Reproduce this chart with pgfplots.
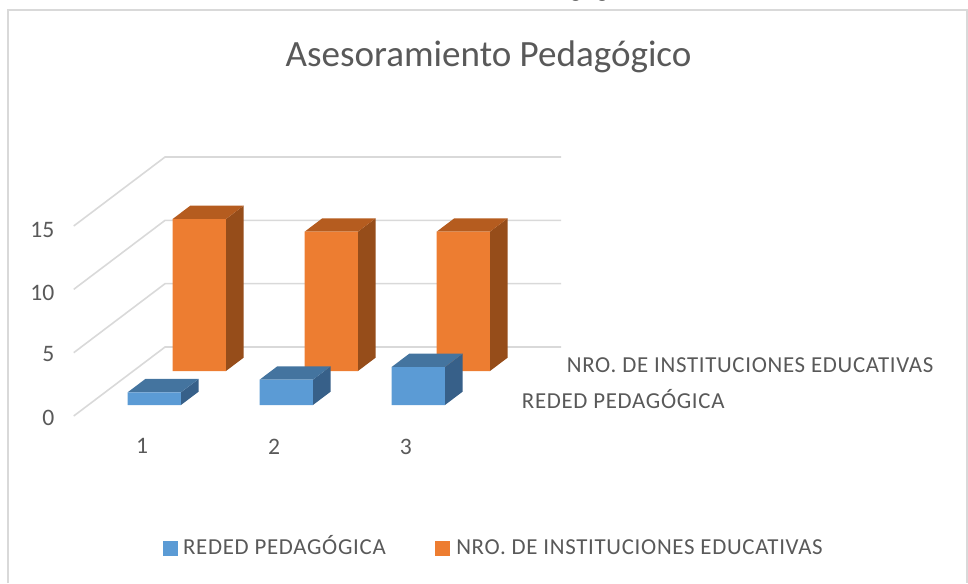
\documentclass[border=0pt]{standalone}
\usepackage{pgfplots}
\pgfplotsset{compat=1.18}
\usepackage{fontspec}
\setmainfont{Carlito}
\newfontfamily\lblfont[LetterSpace=3]{Carlito}
\definecolor{txt}{HTML}{595959}
\definecolor{gridc}{HTML}{D9D9D9}
\definecolor{bF}{HTML}{5B9BD5}
\definecolor{bT}{HTML}{44749F}
\definecolor{bS}{HTML}{376089}
\definecolor{oF}{HTML}{ED7D31}
\definecolor{oT}{HTML}{B55C1F}
\definecolor{oS}{HTML}{964D1A}
\begin{document}
\begin{tikzpicture}
\useasboundingbox (0pt,0pt) rectangle (726pt,437.25pt);
\draw[gridc,line width=1.2pt] (6pt,0pt) -- (6pt,429.75pt) -- (725.25pt,429.75pt) -- (725.25pt,0pt);
\node[txt,font=\fontsize{27.8}{32}\selectfont,anchor=center] at (366.4pt,394.5pt) {Asesoramiento Pedagógico};
\begin{scope}
\clip (0pt,0pt) rectangle (726pt,437.25pt);
\node[font=\fontsize{20}{24}\selectfont,anchor=base west,inner sep=0pt] at (387pt,439.5pt) {Pedagógico};
\end{scope}
\begin{axis}[
  at={(66.225pt,133.5pt)},anchor=origin,
  disabledatascaling,
  x={(99pt,0pt)},y={(33.75pt,25.5pt)},z={(0pt,9.5pt)},
  xmin=0.5,xmax=3.5,ymin=-0.3235,ymax=1.706,zmin=0,zmax=15,
  clip=false,
  axis x line*=bottom,axis y line*=right,axis z line*=left,
  axis line style={draw=none},
  major tick length=0pt,
  xtick={1,2,3},ytick={0,1},ztick={0,5,10,15},
  yticklabels={REDED PEDAGÓGICA,NRO. DE INSTITUCIONES EDUCATIVAS},
  tick label style={font=\fontsize{17.7}{20}\selectfont,text=txt},
  xticklabel style={xshift=6.3pt,yshift=-13.5pt},
  zticklabel style={xshift=-11pt,yshift=1.5pt},
  yticklabel style={font=\fontsize{17.15}{20}\lblfont,anchor=west,inner sep=0pt,xshift=325pt,yshift=-137.9pt},
  /pgf/number format/assume math mode=true,
  legend columns=2,
  legend image code/.code={\fill[#1] (0pt,-5.25pt) rectangle (10.5pt,5.25pt);},
  legend style={at={(axis cs:1.066,0,-11.3)},anchor=west,draw=none,fill=none,inner sep=0pt,font=\fontsize{17.15}{20}\lblfont,text=txt,
    nodes={text height=13pt,text depth=4pt},
    /tikz/column 1/.style={column sep=2pt},
    /tikz/column 3/.style={column sep=3pt},
    /tikz/column 2/.style={column sep=35pt}},
  legend cell align=left,
]
\addlegendimage{bF}
\addlegendentry{REDED PEDAGÓGICA}
\addlegendimage{oF}
\addlegendentry{NRO. DE INSTITUCIONES EDUCATIVAS}
% grid: back wall and left wall
\addplot3[gridc,line width=1.2pt,forget plot] coordinates {(0.5,-0.3235,0)(0.5,1.706,0)(3.5,1.706,0)};
\addplot3[gridc,line width=1.2pt,forget plot] coordinates {(0.5,-0.3235,5)(0.5,1.706,5)(3.5,1.706,5)};
\addplot3[gridc,line width=1.2pt,forget plot] coordinates {(0.5,-0.3235,10)(0.5,1.706,10)(3.5,1.706,10)};
\addplot3[gridc,line width=1.2pt,forget plot] coordinates {(0.5,-0.3235,15)(0.5,1.706,15)(3.5,1.706,15)};
% NRO. DE INSTITUCIONES EDUCATIVAS: 12, 11, 11
\addplot3[fill=oS,draw=none,forget plot] coordinates {(1.202,1,0)(1.202,1.393,0)(1.202,1.393,12)(1.202,1,12)(1.202,1,0)};
\addplot3[fill=oT,draw=none,forget plot] coordinates {(0.798,1,12)(1.202,1,12)(1.202,1.393,12)(0.798,1.393,12)(0.798,1,12)};
\addplot3[fill=oF,draw=none,forget plot] coordinates {(0.798,1,0)(1.202,1,0)(1.202,1,12)(0.798,1,12)(0.798,1,0)};
\addplot3[fill=oS,draw=none,forget plot] coordinates {(2.202,1,0)(2.202,1.393,0)(2.202,1.393,11)(2.202,1,11)(2.202,1,0)};
\addplot3[fill=oT,draw=none,forget plot] coordinates {(1.798,1,11)(2.202,1,11)(2.202,1.393,11)(1.798,1.393,11)(1.798,1,11)};
\addplot3[fill=oF,draw=none,forget plot] coordinates {(1.798,1,0)(2.202,1,0)(2.202,1,11)(1.798,1,11)(1.798,1,0)};
\addplot3[fill=oS,draw=none,forget plot] coordinates {(3.202,1,0)(3.202,1.393,0)(3.202,1.393,11)(3.202,1,11)(3.202,1,0)};
\addplot3[fill=oT,draw=none,forget plot] coordinates {(2.798,1,11)(3.202,1,11)(3.202,1.393,11)(2.798,1.393,11)(2.798,1,11)};
\addplot3[fill=oF,draw=none,forget plot] coordinates {(2.798,1,0)(3.202,1,0)(3.202,1,11)(2.798,1,11)(2.798,1,0)};
% REDED PEDAGOGICA: 1, 2, 3
\addplot3[fill=bS,draw=none,forget plot] coordinates {(1.202,0,0)(1.202,0.393,0)(1.202,0.393,1)(1.202,0,1)(1.202,0,0)};
\addplot3[fill=bT,draw=none,forget plot] coordinates {(0.798,0,1)(1.202,0,1)(1.202,0.393,1)(0.798,0.393,1)(0.798,0,1)};
\addplot3[fill=bF,draw=none,forget plot] coordinates {(0.798,0,0)(1.202,0,0)(1.202,0,1)(0.798,0,1)(0.798,0,0)};
\addplot3[fill=bS,draw=none,forget plot] coordinates {(2.202,0,0)(2.202,0.393,0)(2.202,0.393,2)(2.202,0,2)(2.202,0,0)};
\addplot3[fill=bT,draw=none,forget plot] coordinates {(1.798,0,2)(2.202,0,2)(2.202,0.393,2)(1.798,0.393,2)(1.798,0,2)};
\addplot3[fill=bF,draw=none,forget plot] coordinates {(1.798,0,0)(2.202,0,0)(2.202,0,2)(1.798,0,2)(1.798,0,0)};
\addplot3[fill=bS,draw=none,forget plot] coordinates {(3.202,0,0)(3.202,0.393,0)(3.202,0.393,3)(3.202,0,3)(3.202,0,0)};
\addplot3[fill=bT,draw=none,forget plot] coordinates {(2.798,0,3)(3.202,0,3)(3.202,0.393,3)(2.798,0.393,3)(2.798,0,3)};
\addplot3[fill=bF,draw=none,forget plot] coordinates {(2.798,0,0)(3.202,0,0)(3.202,0,3)(2.798,0,3)(2.798,0,0)};
\end{axis}
\end{tikzpicture}
\end{document}
